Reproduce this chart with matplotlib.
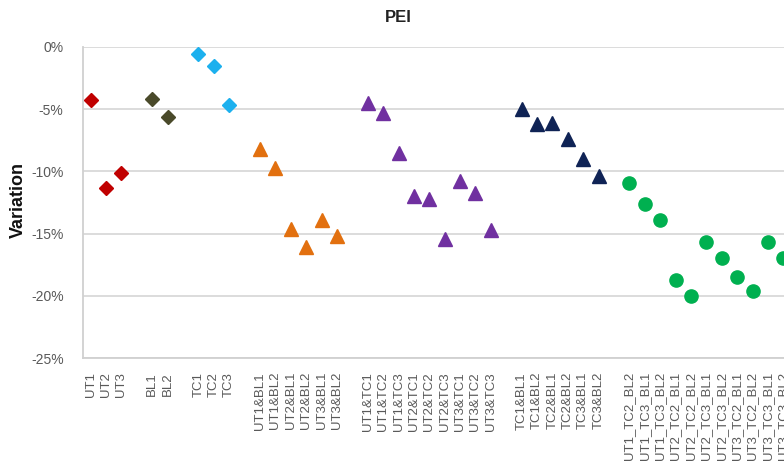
import matplotlib.pyplot as plt
from matplotlib.ticker import PercentFormatter

plt.rcParams['font.family'] = ['Liberation Sans', 'DejaVu Sans']
plt.rcParams['axes.unicode_minus'] = False

# category labels, '' = blank spacer column
labels = ['UT1', 'UT2', 'UT3', '',
          'BL1', 'BL2', '',
          'TC1', 'TC2', 'TC3', '',
          'UT1&BL1', 'UT1&BL2', 'UT2&BL1', 'UT2&BL2', 'UT3&BL1', 'UT3&BL2', '',
          'UT1&TC1', 'UT1&TC2', 'UT1&TC3', 'UT2&TC1', 'UT2&TC2', 'UT2&TC3',
          'UT3&TC1', 'UT3&TC2', 'UT3&TC3', '',
          'TC1&BL1', 'TC1&BL2', 'TC2&BL1', 'TC2&BL2', 'TC3&BL1', 'TC3&BL2', '',
          'UT1_TC2_BL2', 'UT1_TC3_BL1', 'UT1_TC3_BL2', 'UT2_TC2_BL1', 'UT2_TC2_BL2',
          'UT2_TC3_BL1', 'UT2_TC3_BL2', 'UT3_TC2_BL1', 'UT3_TC2_BL2', 'UT3_TC3_BL1',
          'UT3_TC3_BL2']

ut = [-4.3, -11.3, -10.1]
bl = [-4.2, -5.6]
tc = [-0.6, -1.5, -4.7]
ut_bl = [-8.2, -9.7, -14.6, -16.1, -13.9, -15.2]
ut_tc = [-4.5, -5.3, -8.5, -12.0, -12.2, -15.4, -10.8, -11.7, -14.7]
tc_bl = [-5.0, -6.2, -6.1, -7.4, -9.0, -10.4]
triple = [-10.9, -12.6, -13.9, -18.7, -20.0, -15.7, -17.0, -18.5, -19.6, -15.7, -17.0]

groups = [
    (0, ut, 'D', '#C00000', 7.5),
    (4, bl, 'D', '#4A4A2A', 7.5),
    (7, tc, 'D', '#1CB0EE', 7.5),
    (11, ut_bl, '^', '#E2700F', 9.5),
    (18, ut_tc, '^', '#7030A0', 9.5),
    (28, tc_bl, '^', '#0F2355', 9.5),
    (35, triple, 'o', '#00B050', 9.5),
]

fig = plt.figure(figsize=(7.84, 4.61), dpi=100)
# chart is cut off at the right edge in the reference
ax = fig.add_axes([83 / 784, 103 / 461, 708 / 784, 311 / 461])

for start, vals, mk, col, ms in groups:
    xs = list(range(start, start + len(vals)))
    ax.plot(xs, vals, linestyle='none', marker=mk, color=col, markersize=ms, clip_on=False)

ax.set_xlim(-0.5, len(labels) - 0.5)
ax.set_ylim(-25, 0)
ax.set_yticks([0, -5, -10, -15, -20, -25])
ax.yaxis.set_major_formatter(PercentFormatter(decimals=0))
ax.set_xticks(range(len(labels)))
ax.set_xticklabels(labels, rotation=90, fontsize=9.5, color='#595959')
ax.tick_params(axis='x', length=0, pad=10)
ax.tick_params(axis='y', length=0, pad=14, labelsize=10, labelcolor='#595959')
ax.grid(axis='y', color='#D9D9D9', linewidth=1.3)
ax.set_axisbelow(True)
for s in ['top', 'right']:
    ax.spines[s].set_visible(False)
for s in ['left', 'bottom']:
    ax.spines[s].set_color('#D0D0D0')
    ax.spines[s].set_linewidth(1.3)

fig.text(398 / 784, 1 - 17 / 461, 'PEI', ha='center', va='center', fontsize=12, fontweight='bold', color='#222222')
fig.text(18 / 784, 1 - 200 / 461, 'Variation', ha='center', va='center', rotation=90,
         fontsize=13, fontweight='bold', color='#111111')

fig.savefig('out.png', dpi=100)
